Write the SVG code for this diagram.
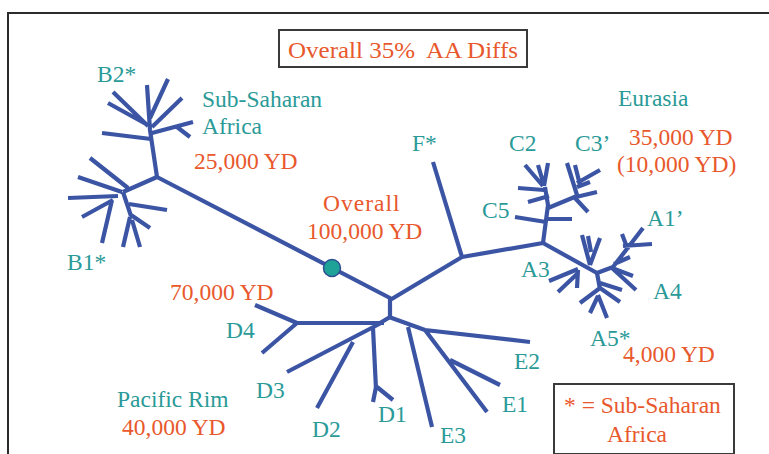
<svg xmlns="http://www.w3.org/2000/svg" width="769" height="454" viewBox="0 0 769 454">
  <style>
    text { font-family: "Liberation Serif", "Times New Roman", serif; font-size: 23.5px; }
    .teal { fill: #2a9a98; }
    .red { fill: #e8582c; }
    .frame { fill: none; stroke: #2b2b2b; stroke-width: 2; }
    .box { fill: #fff; stroke: #3a3a3a; stroke-width: 2; }
    #connectors path { fill: none; stroke: #3b55a4; stroke-width: 4.2; stroke-linecap: butt; stroke-linejoin: round; }
  </style>

  <rect width="769" height="454" fill="#fff"/>
  <!-- outer frame running off the right and bottom edges -->
  <rect class="frame" x="8" y="13" width="800" height="480"/>

  <!-- tree branches -->
  <g id="connectors">
    <!-- trunk -->
    <path d="M157,177 L390,298 L390,317 M390,300 L462,257 L433,162 M462,257 L543,243 M543,243 L597,273"/>
    <!-- B2 cluster -->
    <path d="M157,177 L150,130 L147,85 M150,118 L168,79 M148,126 L113,92 M146,124 L108,103 M152,127 L182,98 M102,133 L151,139 M152,133 L193,122 M177,127 L190,137"/>
    <!-- B1 cluster -->
    <path d="M157,177 L123,192 M90,158 L128,188 M78,177 L122,192 M68,198 L118,196 M82,217 L113,200 M102,243 L112,200 M123,192 L131,216 M129,204 L167,210 M123,247 L130,217 M140,247 L132,220 M150,228 L131,215"/>
    <!-- C cluster -->
    <path d="M543,243 L548,205 L545,187 M515,217 L546,222 M547,219 L572,219 M518,188 L544,190 M525,165 L543,186 M538,165 L543,182 M548,163 L544,186 M528,202 L549,196 M548,208 L577,196 M567,163 L577,195 M575,165 L579,181 M600,170 L577,183 M590,182 L577,187 M597,192 L576,197 M588,212 L575,198"/>
    <!-- A cluster -->
    <path d="M549,281 L578,269 M558,292 L577,274 M577,288 L578,270 M582,235 L590,265 M600,238 L590,265 M588,236 L591,252 M597,273 L613,267 L643,228 M622,234 L628,250 M652,244 L623,246 M630,257 L614,264 M633,276 L612,268 M636,290 L612,268 M597,273 L600,289 M622,290 L600,283 M620,302 L600,288 M580,303 L600,288 M590,313 L598,296 M607,318 L598,295"/>
    <!-- D cluster -->
    <path d="M390,317 L380,323 M297,323 L384,323 M255,305 L297,323 M262,353 L297,323 M383,322 L287,372 M353,342 L317,408 M373,328 L376,389 M376,387 L373,402 M377,387 L393,400"/>
    <!-- E cluster -->
    <path d="M389,317 L425,330 L530,342 M408,327 L432,427 M425,330 L487,412 M450,360 L500,385"/>
  </g>

  <!-- root of the tree -->
  <g id="root">
    <circle cx="332" cy="268" r="8.5" fill="#1fa399" stroke="#2e4f8f" stroke-width="1.5"/>
  </g>

  <g id="title">
    <rect class="box" x="279" y="30" width="248" height="37"/>
    <text class="red" x="288" y="58" textLength="230" lengthAdjust="spacingAndGlyphs" xml:space="preserve">Overall 35%  AA Diffs</text>
  </g>

  <g id="legend">
    <rect class="box" x="554" y="384" width="180" height="70"/>
    <text class="red" x="564" y="413">* = Sub-Saharan</text>
    <text class="red" x="607" y="442">Africa</text>
  </g>

  <g id="overall">
    <text class="red" x="323" y="211" letter-spacing="1">Overall</text>
    <text class="red" x="307" y="239">100,000 YD</text>
  </g>

  <g id="africa">
    <text class="teal" x="202" y="107">Sub-Saharan</text>
    <text class="teal" x="202" y="134">Africa</text>
    <text class="red" x="194" y="169">25,000 YD</text>
  </g>
  <g id="B2"><text class="teal" x="97" y="82">B2*</text></g>
  <g id="B1"><text class="teal" x="67" y="270">B1*</text></g>

  <g id="F"><text class="teal" x="412" y="151">F*</text></g>

  <g id="eurasia">
    <text class="teal" x="618" y="106">Eurasia</text>
    <text class="red" x="629" y="145">35,000 YD</text>
    <text class="red" x="617" y="172">(10,000 YD)</text>
  </g>
  <g id="C2"><text class="teal" x="509" y="151">C2</text></g>
  <g id="C3"><text class="teal" x="575" y="151">C3’</text></g>
  <g id="C5"><text class="teal" x="482" y="218">C5</text></g>
  <g id="A1"><text class="teal" x="647" y="226">A1’</text></g>
  <g id="A3"><text class="teal" x="521" y="277">A3</text></g>
  <g id="A4"><text class="teal" x="653" y="299">A4</text></g>
  <g id="A5">
    <text class="teal" x="590" y="346">A5*</text>
    <text class="red" x="623" y="362">4,000 YD</text>
  </g>

  <g id="pacific">
    <text class="red" x="170" y="300">70,000 YD</text>
    <text class="teal" x="117" y="407">Pacific Rim</text>
    <text class="red" x="122" y="435">40,000 YD</text>
  </g>
  <g id="D4"><text class="teal" x="226" y="338">D4</text></g>
  <g id="D3"><text class="teal" x="256" y="398">D3</text></g>
  <g id="D2"><text class="teal" x="312" y="437">D2</text></g>
  <g id="D1"><text class="teal" x="378" y="422">D1</text></g>
  <g id="E3"><text class="teal" x="440" y="443">E3</text></g>
  <g id="E1"><text class="teal" x="502" y="412">E1</text></g>
  <g id="E2"><text class="teal" x="514" y="369">E2</text></g>
</svg>
